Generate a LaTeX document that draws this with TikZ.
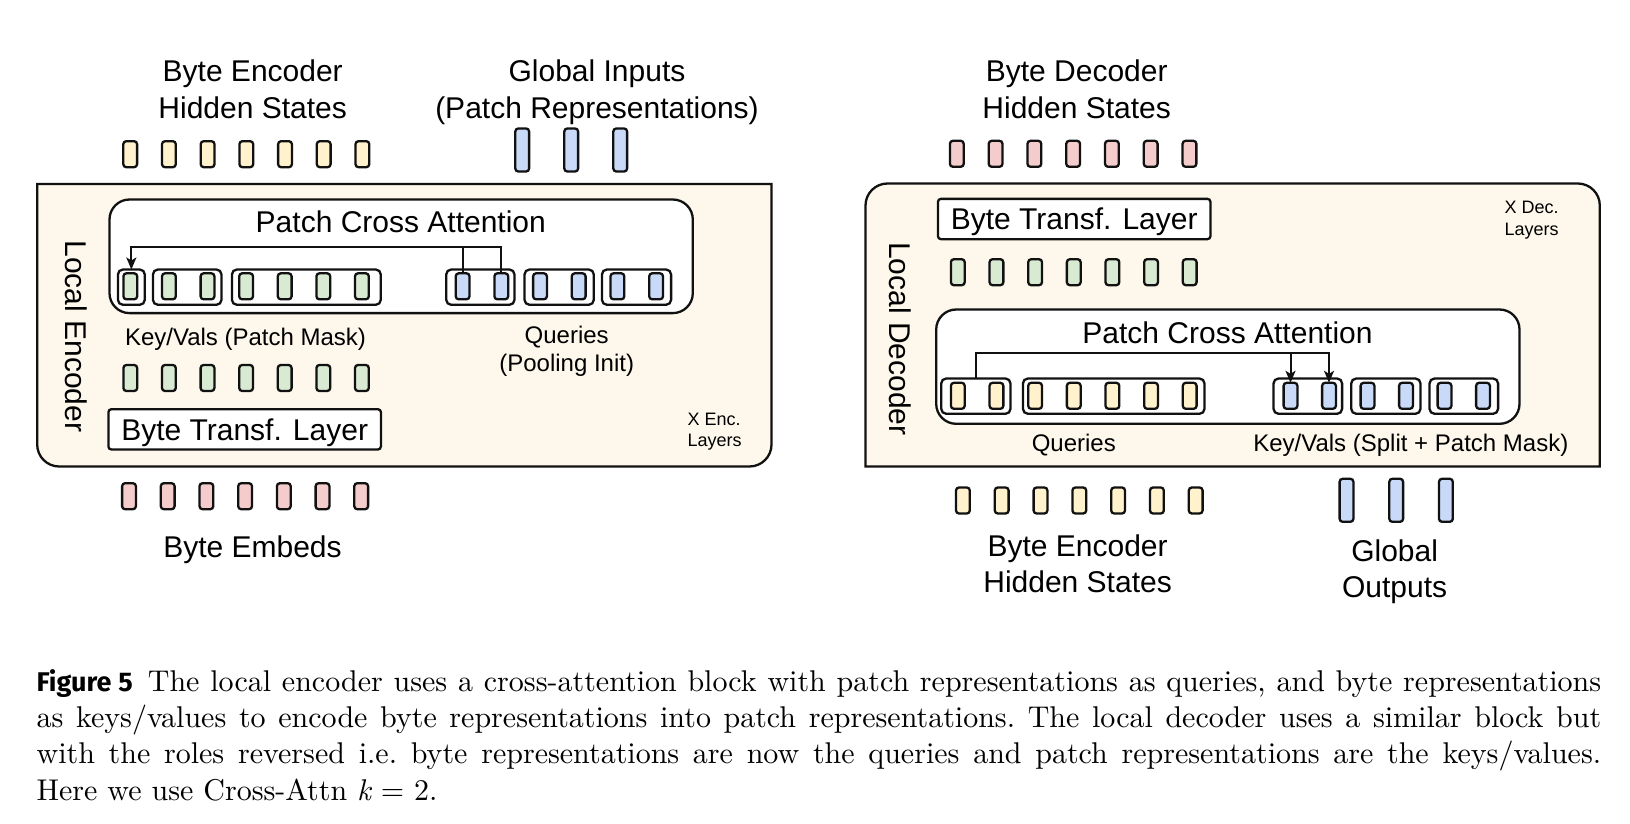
\documentclass[tikz,border=0pt]{standalone}
\usepackage{fontspec}
\newfontfamily\lsans{Liberation Sans}
\newfontfamily\capfont{lmroman10-regular}[Extension=.otf, ItalicFont=lmroman10-italic]
\newfontfamily\figfont{Fira Sans}
\usetikzlibrary{arrows.meta}
\definecolor{tokY}{HTML}{FFF2CC}
\definecolor{tokG}{HTML}{D9EAD3}
\definecolor{tokB}{HTML}{C9DAF8}
\definecolor{tokP}{HTML}{F4CCCC}
\definecolor{cream}{HTML}{FDF8EB}
\definecolor{ink}{HTML}{111111}
\begin{document}
\begin{tikzpicture}[x=1pt,y=-1pt,
  tok/.style={draw=ink, line width=2.3pt, rounded corners=3pt, minimum width=13.8pt, minimum height=26pt, inner sep=0pt, outer sep=0pt},
  gtok/.style={tok, minimum height=43pt},
  grp/.style={draw=ink, line width=2.3pt, rounded corners=5pt, minimum height=35.3pt, inner sep=0pt, outer sep=0pt, fill=white},
  pcabox/.style={draw=ink, line width=2.3pt, rounded corners=20pt, fill=white, inner sep=0pt, outer sep=0pt},
  btl/.style={draw=ink, line width=2.3pt, rounded corners=3pt, fill=white, inner sep=0pt, minimum width=272.5pt, minimum height=40.3pt, font=\lsans\fontsize{30}{36}\selectfont, text height=21.5pt, text depth=0pt},
  lblbig/.style={font=\lsans\fontsize{30}{36}\selectfont, inner sep=0pt, anchor=base},
  lblmid/.style={font=\lsans\fontsize{24}{28}\selectfont, inner sep=0pt, anchor=base},
  lblsm/.style={font=\lsans\fontsize{18}{21}\selectfont, inner sep=0pt, anchor=base west},
  outbox/.style={draw=ink, line width=2.3pt, fill=cream},
  conn/.style={draw=ink, line width=2pt},
  arr/.style={conn, -{Stealth[length=12pt,width=10pt,inset=3pt]}},
]
\useasboundingbox (0,0) rectangle (1630,824);
\fill[white] (0,0) rectangle (1630,824);

% ---------------- Encoder ----------------
\node[lblbig] (tBE1) at (252.7,81.7) {Byte Encoder};
\node[lblbig] (tBE2) at (252.7,118.3) {Hidden States};
\node[lblbig] (tGI1) at (597,81.7) {Global Inputs};
\node[lblbig] (tGI2) at (597,118.3) {(Patch Representations)};
\foreach \i in {0,...,6} \node[tok,fill=tokY] (ey\i) at ({130.2+38.7*\i},154.2) {};
\foreach \i/\x in {0/522.2,1/571.2,2/620.2} \node[gtok,fill=tokB] (gi\i) at (\x,150) {};

\draw[outbox] (37.2,183.9) -- (771.5,183.9) -- (771.5,444.5)
  arc[start angle=0,end angle=90,radius=22] -- (59.2,466.5)
  arc[start angle=90,end angle=180,radius=22] -- cycle;
\node[font=\lsans\fontsize{30}{36}\selectfont, rotate=-90, inner sep=0pt] (tLE) at (76.5,336.5) {Local Encoder};

\node[pcabox, minimum width=583.3pt, minimum height=113.6pt] (epca) at (401.15,256.3) {};
\node[lblbig] (tEPCA) at (400.8,232.7) {Patch Cross Attention};
\node[grp, minimum width=26.9pt] (egr1) at (131.35,287.15) {};
\node[grp, minimum width=68.6pt] (egr2) at (187.2,287.15) {};
\node[grp, minimum width=148.9pt] (egr3) at (306.35,287.15) {};
\node[grp, minimum width=68.3pt] (egr4) at (480.35,287.15) {};
\node[grp, minimum width=69.3pt] (egr5) at (559.15,287.15) {};
\node[grp, minimum width=69.2pt] (egr6) at (636.5,287.15) {};
\foreach \i in {0,...,6} \node[tok,fill=tokG] (ek\i) at ({130.3+38.6*\i},286.3) {};
\foreach \i in {0,...,5} \node[tok,fill=tokB] (eq\i) at ({462.6+38.7*\i},286.3) {};
\coordinate (ejoin) at (0,246.7);
\draw[arr] (eq1.north) |- (ejoin -| egr1.north) -- (egr1.north);
\draw[conn] (eq0.north) -- (eq0.north |- ejoin);

\node[lblmid] (tKV) at (245.5,345.7) {Key/Vals (Patch Mask)};
\node[lblmid] (tQ1) at (566.7,343.5) {Queries};
\node[lblmid] (tQ2) at (566.7,371.5) {(Pooling Init)};
\foreach \i in {0,...,6} \node[tok,fill=tokG] (eh\i) at ({130.3+38.6*\i},378) {};
\node[btl] (ebt) at (244.65,429.35) {Byte Transf. Layer};
\node[lblsm] (tXE1) at (687.3,425) {X Enc.};
\node[lblsm] (tXE2) at (687.3,446) {Layers};

\foreach \i in {0,...,6} \node[tok,fill=tokP] (ep\i) at ({129+38.7*\i},496.2) {};
\node[lblbig] (tBEm) at (252.5,557.5) {Byte Embeds};

% ---------------- Decoder ----------------
\node[lblbig] (tBD1) at (1076.7,81.7) {Byte Decoder};
\node[lblbig] (tBD2) at (1076.7,118.3) {Hidden States};
\foreach \i in {0,...,6} \node[tok,fill=tokP] (dp\i) at ({956.8+38.78*\i},153.8) {};

\draw[outbox] (865.5,466.5) -- (865.5,205.5)
  arc[start angle=180,end angle=270,radius=22] -- (1577.8,183.5)
  arc[start angle=270,end angle=360,radius=22] -- (1599.8,466.5) -- cycle;
\node[font=\lsans\fontsize{30}{36}\selectfont, rotate=-90, inner sep=0pt] (tLD) at (900.5,339) {Local Decoder};

\node[btl] (dbt) at (1074.2,219) {Byte Transf. Layer};
\node[lblsm] (tXD1) at (1504.3,213.3) {X Dec.};
\node[lblsm] (tXD2) at (1504.3,235.3) {Layers};
\foreach \i in {0,...,6} \node[tok,fill=tokG] (dh\i) at ({957.8+38.65*\i},272.2) {};

\node[pcabox, minimum width=583.3pt, minimum height=114.3pt] (dpca) at (1227.85,366.65) {};
\node[lblbig] (tDPCA) at (1227.5,343.3) {Patch Cross Attention};
\node[grp, minimum width=69.3pt] (dgr1) at (975.85,396.15) {};
\node[grp, minimum width=181.6pt] (dgr2) at (1113.7,396.15) {};
\node[grp, minimum width=68.6pt] (dgr3) at (1307.8,396.15) {};
\node[grp, minimum width=69.3pt] (dgr4) at (1385.85,396.15) {};
\node[grp, minimum width=68.6pt] (dgr5) at (1463.8,396.15) {};
\foreach \i in {0,...,6} \node[tok,fill=tokY] (dq\i) at ({957.8+38.65*\i},395.8) {};
\foreach \i in {0,...,5} \node[tok,fill=tokB] (dk\i) at ({1290.5+38.5*\i},395.8) {};
\coordinate (djoin) at (0,352.7);
\draw[arr] (dgr1.north) |- (djoin -| dk1.north) -- (dk1.north);
\draw[arr] (dk0.north |- djoin) -- (dk0.north);

\node[lblmid] (tDQ) at (1073.8,451) {Queries};
\node[lblmid] (tDKV) at (1410.8,451) {Key/Vals (Split + Patch Mask)};

\foreach \i in {0,...,6} \node[tok,fill=tokY] (dy\i) at ({962.9+38.8*\i},500.5) {};
\foreach \i in {0,...,2} \node[gtok,fill=tokB] (go\i) at ({1346.5+49.7*\i},500.3) {};
\node[lblbig] (tBE3) at (1077.6,556) {Byte Encoder};
\node[lblbig] (tBE4) at (1077.6,592.5) {Hidden States};
\node[lblbig] (tGO1) at (1394.6,561) {Global};
\node[lblbig] (tGO2) at (1394.6,597.5) {Outputs};

% ---------------- Caption ----------------
\node[anchor=base west, inner sep=0pt] (cap) at (36.4,691) {\parbox[t]{1564.6pt}{\capfont\fontsize{30}{36.4}\selectfont\frenchspacing
\hbox to 1564.6pt{{\figfont\bfseries\fontsize{27}{30}\selectfont Figure 5}\hskip 14pt plus 6pt The local encoder uses a cross-attention block with patch representations as queries, and byte representations}
\hbox to 1564.6pt{as keys/values to encode byte representations into patch representations. The local decoder uses a similar block but}
\hbox to 1564.6pt{with the roles reversed i.e. byte representations are now the queries and patch representations are the keys/values.}
\hbox{Here we use Cross-Attn {\itshape k}\hskip 0.33em=\hskip 0.33em2.}}};
\end{tikzpicture}
\end{document}
